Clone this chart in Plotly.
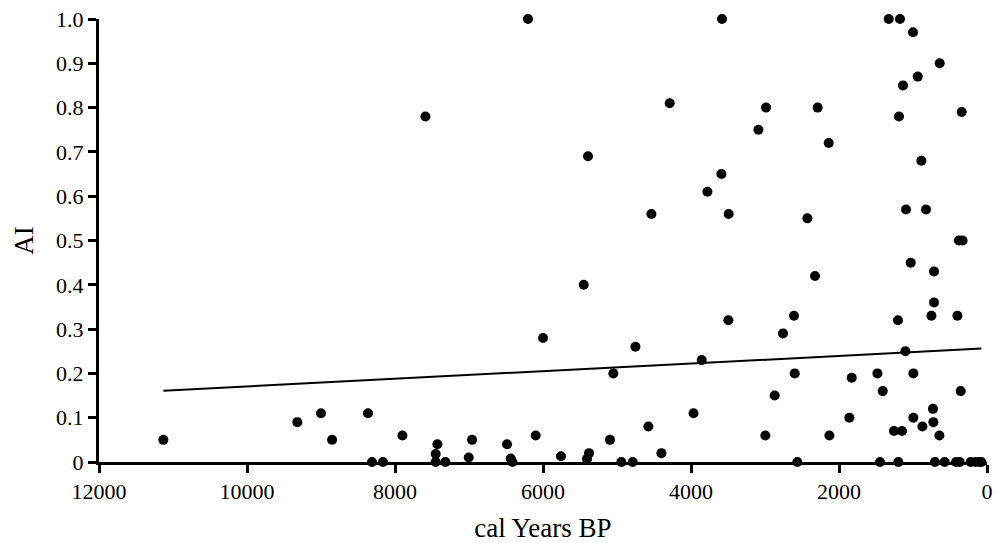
import plotly.graph_objects as go

# Data
years_bp = [11130, 9320, 9000, 8850, 8365, 8311, 8162, 7900, 7589, 7427,
            7450, 7450, 7319, 6959, 7004, 6486, 6436, 6414, 6203, 6099,
            6000, 5757, 5450, 5392, 5378, 5405, 5095, 5049, 4941, 4788,
            4751, 4576, 4535, 4400, 4288, 3966, 3855, 3778, 3589, 3581,
            3495, 3491, 3089, 2995, 2986, 2869, 2757, 2608, 2598, 2563,
            2427, 2324, 2288, 2139, 2130, 1860, 1828, 1481, 1446, 1409,
            1328, 1257, 1203, 1198, 1189, 1176, 1149, 1135, 1103, 1095,
            1031, 1000, 995, 995, 936, 887, 873, 824, 751, 730,
            725, 716, 716, 703, 643, 639, 572, 419, 400, 380,
            369, 355, 342, 330, 220, 153, 99, 76]
ai_values = [0.05, 0.09, 0.11, 0.05, 0.11, 0.0, 0.0, 0.06, 0.78, 0.04,
             0.018, 0.0, 0.0, 0.05, 0.01, 0.04, 0.008, 0.0, 1.0, 0.06,
             0.28, 0.013, 0.40, 0.69, 0.02, 0.007, 0.05, 0.20, 0.0, 0.0,
             0.26, 0.08, 0.56, 0.02, 0.81, 0.11, 0.23, 0.61, 0.65, 1.0,
             0.32, 0.56, 0.75, 0.06, 0.80, 0.15, 0.29, 0.33, 0.20, 0.0,
             0.55, 0.42, 0.80, 0.72, 0.06, 0.10, 0.19, 0.20, 0.0, 0.16,
             1.0, 0.07, 0.32, 0.0, 0.78, 1.0, 0.07, 0.85, 0.25, 0.57,
             0.45, 0.97, 0.20, 0.10, 0.87, 0.68, 0.08, 0.57, 0.33, 0.12,
             0.09, 0.43, 0.36, 0.0, 0.06, 0.90, 0.0, 0.0, 0.33, 0.50,
             0.0, 0.16, 0.79, 0.50, 0.0, 0.0, 0.0, 0.0]

# Linear trend line end points
trend_x = [11130, 76]
trend_y = [0.161, 0.256]

x_tick_vals = [12000, 10000, 8000, 6000, 4000, 2000, 0]
x_tick_text = ["12000", "10000", "8000", "6000", "4000", "2000", "0"]
y_tick_vals = [0, 0.1, 0.2, 0.3, 0.4, 0.5, 0.6, 0.7, 0.8, 0.9, 1.0]
y_tick_text = ["0", "0.1", "0.2", "0.3", "0.4", "0.5", "0.6", "0.7", "0.8", "0.9", "1.0"]

FONT = "Liberation Serif"

fig = go.Figure()
fig.add_trace(go.Scatter(
    x=trend_x, y=trend_y, mode="lines",
    line=dict(color="black", width=2),
    showlegend=False, hoverinfo="skip"))
fig.add_trace(go.Scatter(
    x=years_bp, y=ai_values, mode="markers",
    marker=dict(color="black", size=10, line=dict(width=0)),
    cliponaxis=False, showlegend=False))

# the page body has an 8px margin, so the figure is sized/offset to compensate
fig.update_layout(
    width=997, height=535,
    margin=dict(l=91, r=18, t=11, b=81, autoexpand=False),
    paper_bgcolor="white", plot_bgcolor="white",
    font=dict(family=FONT, color="black", size=22),
    xaxis=dict(
        range=[12000, 0], tickvals=x_tick_vals, ticktext=x_tick_text,
        showgrid=False, zeroline=False, automargin=False,
        showline=True, linecolor="black", linewidth=3,
        ticks="outside", ticklen=8, tickwidth=3, tickcolor="black",
        ticklabeloverflow="allow",
        tickfont=dict(family=FONT, size=22, color="black"),
        title=dict(text="cal Years BP", font=dict(family=FONT, size=27, color="black")),
    ),
    yaxis=dict(
        range=[0, 1.0], tickvals=y_tick_vals, ticktext=y_tick_text,
        showgrid=False, zeroline=False, automargin=False,
        showline=True, linecolor="black", linewidth=3,
        ticks="outside", ticklen=8, tickwidth=3, tickcolor="black",
        ticklabeloverflow="allow",
        tickfont=dict(family=FONT, size=22, color="black"),
        title=dict(text="AI", font=dict(family=FONT, size=27, color="black")),
    ),
)

fig.write_html("out.html")
